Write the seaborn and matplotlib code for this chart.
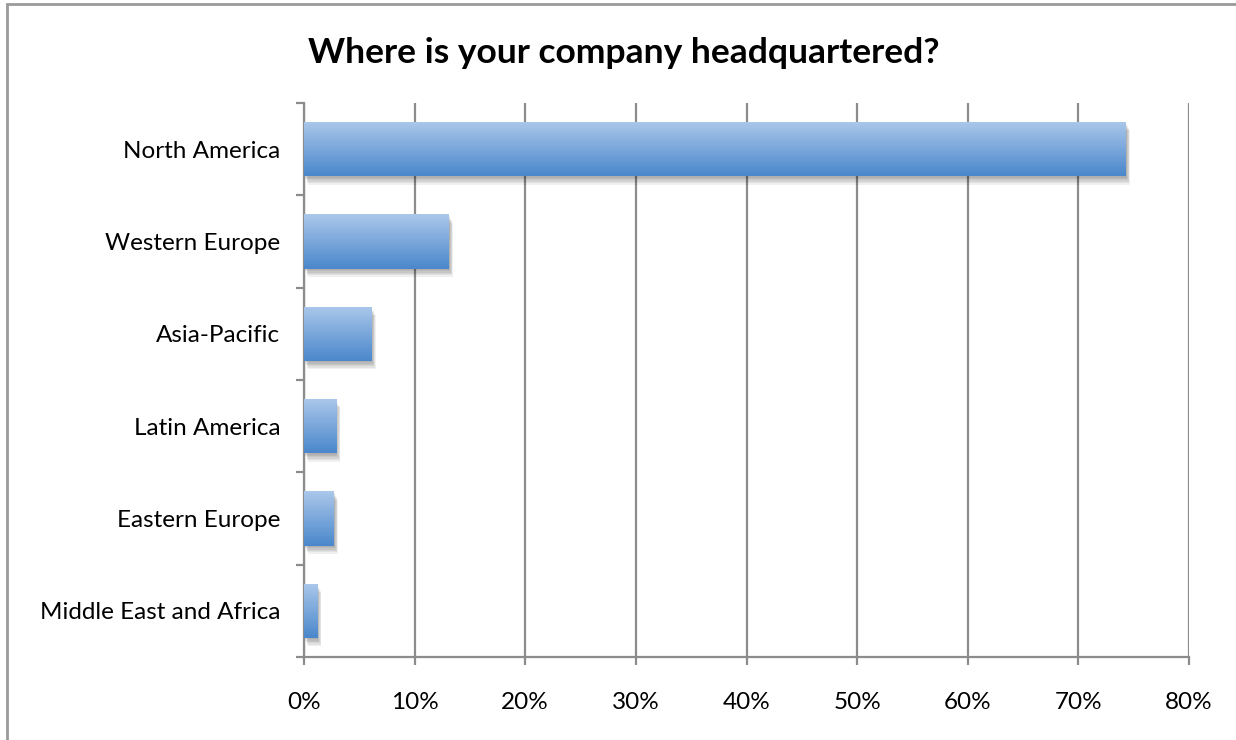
import numpy as np
import matplotlib
matplotlib.use("Agg")
import matplotlib.pyplot as plt
import matplotlib.patheffects as pe
from matplotlib.patches import Rectangle
from matplotlib.ticker import FuncFormatter, MultipleLocator, FixedLocator
import seaborn as sns
import pandas as pd

categories = ["North America", "Western Europe", "Asia-Pacific", "Latin America",
              "Eastern Europe", "Middle East and Africa"]
values = [74.3, 13.1, 6.1, 2.9, 2.7, 1.2]
title = "Where is your company headquartered?"

sns.set_theme(style="white")
plt.rcParams['font.family'] = ['Lato', 'DejaVu Sans']

W, H = 1236, 740
fig = plt.figure(figsize=(W / 100, H / 100), dpi=100)
ax = fig.add_axes([304 / W, 1 - 657 / H, (1189 - 304) / W, (657 - 103) / H])

df = pd.DataFrame({"region": categories, "pct": values})
sns.barplot(data=df, x="pct", y="region", orient="h", ax=ax, width=0.585,
            color="#6a9bd6", saturation=1, zorder=3)

ax.set_xlim(0, 80)
ax.set_ylim(len(categories) - 0.5, -0.5)

# gradient fill + soft shadow for each bar
grad = np.linspace(0, 1, 256).reshape(-1, 1)
top = np.array(matplotlib.colors.to_rgb("#abc8eb"))
bot = np.array(matplotlib.colors.to_rgb("#4a87cb"))
img = top[None, None, :] * (1 - grad[..., None]) + bot[None, None, :] * grad[..., None]
shadow_fx = [pe.SimplePatchShadow(offset=o, shadow_rgbFace="#000000", alpha=0.06)
             for o in [(0.5, -1), (1, -2), (1.5, -3), (2, -4), (2.5, -5), (3, -6)]]
for p in ax.patches:
    x0, y0 = p.get_x(), p.get_y()
    w, h = p.get_width(), p.get_height()
    p.set_path_effects(shadow_fx + [pe.Normal()])
    p.set_edgecolor("none")
    im = ax.imshow(img, extent=(x0, x0 + w, y0 + h, y0), aspect="auto", zorder=4,
                   interpolation="bilinear")
    im.set_clip_path(p)

ax.set_xlim(0, 80)
ax.set_ylim(len(categories) - 0.5, -0.5)

ax.xaxis.set_major_locator(MultipleLocator(10))
ax.xaxis.set_major_formatter(FuncFormatter(lambda v, _: f"{int(round(v))}%"))
ax.grid(axis="x", color="#8c8c8c", linewidth=1.6, zorder=0)
ax.grid(axis="y", visible=False)
ax.set_axisbelow(True)

for s in ["top", "right"]:
    ax.spines[s].set_visible(False)
for s in ["left", "bottom"]:
    ax.spines[s].set_color("#8c8c8c")
    ax.spines[s].set_linewidth(1.6)

ax.set_xlabel("")
ax.set_ylabel("")
ax.tick_params(axis="x", which="major", direction="out", length=6, width=1.6,
               color="#8c8c8c", labelsize=17.5, pad=19, bottom=True, labelcolor="#000000")
ax.yaxis.set_major_locator(FixedLocator(np.arange(len(categories))))
ax.set_yticklabels(categories)
ax.tick_params(axis="y", which="major", length=0, labelsize=17.5, pad=17, labelcolor="#000000")
ax.yaxis.set_minor_locator(FixedLocator(np.arange(len(categories) + 1) - 0.5))
ax.tick_params(axis="y", which="minor", direction="out", length=6, width=1.6,
               color="#8c8c8c", left=True)

fig.text(624 / W, 1 - 53 / H, title, ha="center", va="center", fontsize=25.5,
         fontweight="bold", color="#000000")

# outer frame
fig.patches.append(Rectangle((7 / W, -0.1), 1.2, 1 - 4 / H + 0.1, transform=fig.transFigure,
                             fill=False, edgecolor="#9a9a9a", linewidth=2, zorder=0))

fig.savefig("out.png", dpi=100)
